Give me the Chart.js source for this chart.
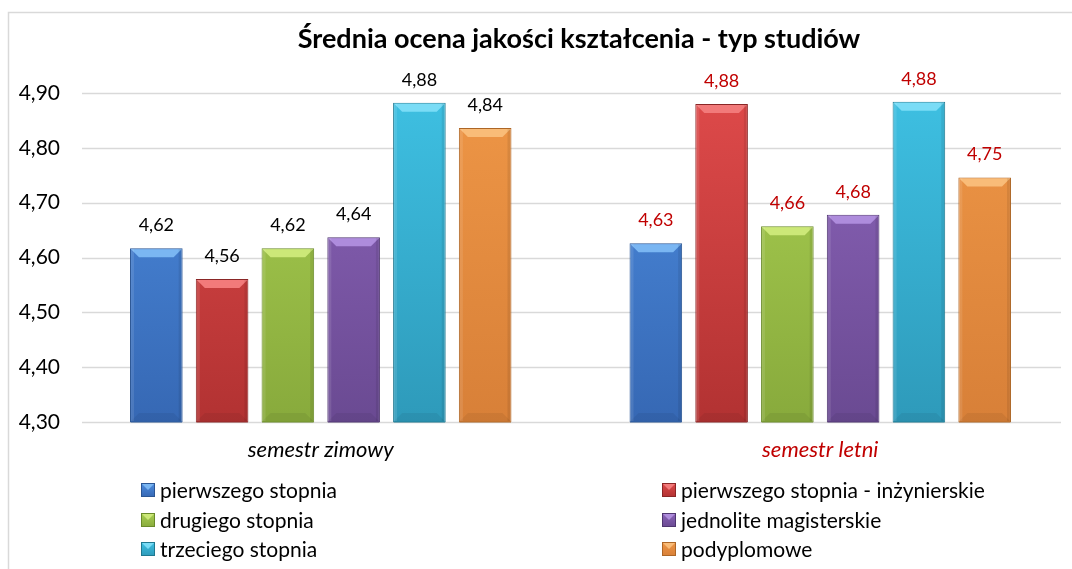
<!DOCTYPE html>
<html>
<head>
<meta charset="utf-8">
<script src="https://cdn.jsdelivr.net/npm/chart.js@4"></script>
<style>
  html, body { margin: 0; padding: 0; background: #ffffff; }
  #wrap { width: 1072px; height: 569px; position: relative; }
</style>
</head>
<body>
<div id="wrap"><canvas id="grafico" width="1072" height="569"></canvas></div>
<script>
const semestry = ["semestr zimowy", "semestr letni"]
const typyStudiow = ["pierwszego stopnia", "pierwszego stopnia - inżynierskie", "drugiego stopnia", "jednolite magisterskie", "trzeciego stopnia", "podyplomowe"]
const zimowy = [4.617, 4.561, 4.617, 4.637, 4.882, 4.836]
const letni = [4.626, 4.880, 4.657, 4.678, 4.884, 4.746]
const osY = [4.30, 4.40, 4.50, 4.60, 4.70, 4.80, 4.90]

const tytul = "Średnia ocena jakości kształcenia - typ studiów"
const kolorySemestrow = ["#000000", "#c00000"]

// [gora, dol, ramka, faza]
const kolory = [
  ["#4d8de0", "#3668b4", "#2b5694", "#7ab6f2"],
  ["#de4a4a", "#b23232", "#8a2626", "#f27a7a"],
  ["#aad052", "#88aa3c", "#6a8a2a", "#cce878"],
  ["#8c64ba", "#6a4a92", "#4f3670", "#ae8cdc"],
  ["#3ec0e2", "#2e9aba", "#1f7890", "#7adcf6"],
  ["#ee9646", "#d88038", "#ad6626", "#f9bc78"]
]

const font = "Lato, 'Noto Sans', sans-serif"

function wartosc(i) {
  return [zimowy[i], letni[i]]
}

function gradient(ctx, k) {
  const area = ctx.chart.chartArea
  if (!area) return k[0]
  const g = ctx.chart.ctx.createLinearGradient(0, area.top, 0, area.bottom)
  g.addColorStop(0, k[0])
  g.addColorStop(1, k[1])
  return g
}

const datasets = typyStudiow.map((nazwa, i) => {
  return {
    label: nazwa,
    data: wartosc(i),
    backgroundColor: (ctx) => gradient(ctx, kolory[i]),
    borderColor: kolory[i][2],
    borderWidth: 1,
    categoryPercentage: 0.79,
    barPercentage: 0.8
  }
})

const ramka = {
  id: "ramka",
  beforeDraw(chart) {
    const c = chart.ctx
    c.save()
    c.strokeStyle = "#d9d9d9"
    c.lineWidth = 1.5
    c.beginPath()
    c.moveTo(8.5, 600)
    c.lineTo(8.5, 12.5)
    c.lineTo(1100, 12.5)
    c.stroke()
    c.fillStyle = "#000"
    c.font = "bold 27px " + font
    c.textAlign = "center"
    c.textBaseline = "middle"
    c.fillText(tytul, 579, 39)
    c.restore()
  },
  beforeDatasetsDraw(chart) {
    // linie siatki (krotsze niz obszar wykresu, jak w oryginale)
    const c = chart.ctx
    const y = chart.scales.y
    c.save()
    c.strokeStyle = "#d9d9d9"
    c.lineWidth = 1.5
    osY.forEach((v) => {
      const py = Math.round(y.getPixelForValue(v)) + 0.5
      c.beginPath()
      c.moveTo(82, py)
      c.lineTo(1061, py)
      c.stroke()
    })
    c.restore()
  }
}

const fazy = {
  id: "fazy",
  afterDatasetsDraw(chart) {
    const c = chart.ctx
    const dno = chart.chartArea.bottom
    c.save()
    chart.data.datasets.forEach((ds, i) => {
      const meta = chart.getDatasetMeta(i)
      meta.data.forEach((bar, j) => {
        const w = bar.width
        const l = bar.x - w / 2
        const r = bar.x + w / 2
        const t = bar.y
        const b = Math.min(bar.base, dno)
        const f = 9
        // gorna faza
        c.fillStyle = kolory[i][3]
        c.beginPath()
        c.moveTo(l + 1, t + 1)
        c.lineTo(r - 1, t + 1)
        c.lineTo(r - f, t + f)
        c.lineTo(l + f, t + f)
        c.closePath()
        c.fill()
        // dolna faza
        c.fillStyle = "rgba(0,0,0,0.06)"
        c.beginPath()
        c.moveTo(l + 1, b - 1)
        c.lineTo(r - 1, b - 1)
        c.lineTo(r - f, b - f)
        c.lineTo(l + f, b - f)
        c.closePath()
        c.fill()
        // boki
        c.fillStyle = "rgba(0,0,0,0.08)"
        c.fillRect(r - 4, t + 1, 3, b - t - 2)
        c.fillStyle = "rgba(255,255,255,0.10)"
        c.fillRect(l + 1, t + 1, 3, b - t - 2)
        c.strokeStyle = kolory[i][2]
        c.lineWidth = 1
        c.beginPath()
        c.moveTo(l + 0.5, b)
        c.lineTo(r - 0.5, b)
        c.stroke()
        // etykieta
        c.fillStyle = kolorySemestrow[j]
        c.font = "18px " + font
        c.textAlign = "center"
        c.textBaseline = "middle"
        c.fillText(ds.data[j].toFixed(2).replace(".", ","), bar.x, t - 23)
      })
    })
    c.restore()
  }
}

const legenda = {
  id: "legenda",
  afterDraw(chart) {
    const c = chart.ctx
    const kolumny = [141, 662]
    const wiersze = [490, 520, 549]
    c.save()
    c.font = "21px " + font
    c.textBaseline = "middle"
    c.textAlign = "left"
    typyStudiow.forEach((nazwa, i) => {
      const x = kolumny[i % 2]
      const y = wiersze[Math.floor(i / 2)]
      const g = c.createLinearGradient(0, y - 7, 0, y + 7)
      g.addColorStop(0, kolory[i][0])
      g.addColorStop(1, kolory[i][1])
      c.fillStyle = g
      c.fillRect(x, y - 7, 14, 14)
      c.fillStyle = kolory[i][3]
      c.beginPath()
      c.moveTo(x, y - 7)
      c.lineTo(x + 14, y - 7)
      c.lineTo(x + 7, y)
      c.closePath()
      c.fill()
      c.strokeStyle = kolory[i][2]
      c.lineWidth = 1
      c.strokeRect(x + 0.5, y - 6.5, 13, 13)
      c.fillStyle = "#000"
      c.fillText(nazwa, x + 19, y + 1)
    })
    c.restore()
  }
}

const config = {
  type: "bar",
  data: { labels: semestry, datasets },
  options: {
    responsive: false,
    animation: false,
    layout: { padding: { left: 0, right: 2, top: 93, bottom: 0 } },
    plugins: {
      legend: { display: false },
      title: { display: false },
      tooltip: { enabled: false }
    },
    scales: {
      x: {
        grid: { display: false, drawTicks: false },
        border: { display: false },
        ticks: {
          padding: 15,
          font: { family: font, size: 22, style: "italic" },
          color: (ctx) => kolorySemestrow[ctx.index]
        },
        afterFit: (scale) => { scale.height = 147 }
      },
      y: {
        min: osY[0],
        max: osY[osY.length - 1],
        afterBuildTicks: (scale) => { scale.ticks = osY.map((v) => ({ value: v })) },
        grid: { display: false, drawTicks: false },
        border: { display: false },
        ticks: {
          padding: 11,
          color: "#000",
          font: { family: font, size: 21 },
          callback: (v) => Number(v).toFixed(2).replace(".", ",")
        },
        afterFit: (scale) => { scale.width = 71 }
      }
    }
  },
  plugins: [ramka, fazy, legenda]
}

const grafico = document.querySelector("#grafico")
new Chart(grafico, config)
</script>
</body>
</html>
